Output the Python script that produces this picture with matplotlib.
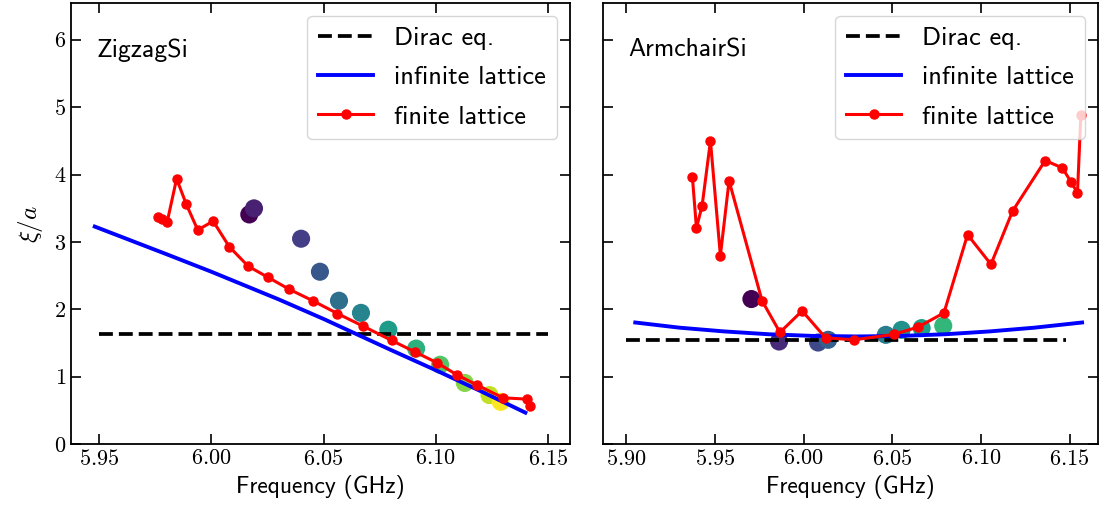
import numpy as np
import matplotlib
matplotlib.use('Agg')
import matplotlib.pyplot as plt
from matplotlib.ticker import FuncFormatter

plt.rcParams['font.family'] = 'cmss10'
plt.rcParams['mathtext.fontset'] = 'cm'
plt.rcParams['axes.unicode_minus'] = False
plt.rcParams['axes.formatter.use_mathtext'] = True

# ---- Zigzag data ----
zz_dirac_f = [5.95, 6.15]
zz_dirac_xi = [1.63, 1.63]
zz_inf_f = [5.948, 5.98, 6.00, 6.03, 6.05, 6.08, 6.10, 6.12, 6.14]
zz_inf_xi = [3.23, 2.82, 2.56, 2.15, 1.86, 1.40, 1.10, 0.79, 0.47]
zz_fin_f = [5.9763, 5.978, 5.9803, 5.9845, 5.9887, 5.9939, 6.0008, 6.0080, 6.0165,
            6.0251, 6.0347, 6.0452, 6.0562, 6.0678, 6.0804, 6.0908, 6.1006, 6.1095,
            6.1184, 6.1300, 6.1408, 6.1420]
zz_fin_xi = [3.37, 3.34, 3.30, 3.94, 3.57, 3.18, 3.31, 2.93, 2.64,
             2.48, 2.30, 2.13, 1.94, 1.75, 1.54, 1.37, 1.21, 1.03,
             0.88, 0.69, 0.67, 0.57]
zz_dot_f = [6.0169, 6.0190, 6.0400, 6.0484, 6.0569, 6.0667, 6.0789, 6.0913,
            6.1020, 6.1130, 6.1240, 6.1290]
zz_dot_xi = [3.41, 3.50, 3.05, 2.56, 2.13, 1.95, 1.70, 1.42, 1.18, 0.91, 0.73, 0.63]
zz_dot_c = [0.0, 0.09, 0.18, 0.27, 0.36, 0.45, 0.55, 0.64, 0.73, 0.82, 0.91, 1.0]

# ---- Armchair data ----
ac_dirac_f = [5.90, 6.148]
ac_dirac_xi = [1.55, 1.55]
ac_inf_f = [5.905, 5.93, 5.955, 5.98, 6.005, 6.03, 6.055, 6.08, 6.105, 6.13, 6.157]
ac_inf_xi = [1.807, 1.73, 1.675, 1.633, 1.608, 1.600, 1.608, 1.633, 1.675, 1.73, 1.807]
ac_fin_f = [5.9372, 5.9395, 5.9427, 5.9474, 5.9530, 5.9579, 5.9765, 5.9866, 5.9991,
            6.0123, 6.0283, 6.0508, 6.0646, 6.0791, 6.0924, 6.1056, 6.1178, 6.1362,
            6.1459, 6.1508, 6.1544, 6.1563]
ac_fin_xi = [3.97, 3.21, 3.54, 4.50, 2.80, 3.91, 2.13, 1.66, 1.98,
             1.58, 1.55, 1.63, 1.74, 1.95, 3.11, 2.67, 3.46, 4.21,
             4.10, 3.89, 3.73, 4.88]
ac_dot_f = [5.9705, 5.9861, 6.0081, 6.0138, 6.0463, 6.0552, 6.0665, 6.0787]
ac_dot_xi = [2.155, 1.525, 1.51, 1.55, 1.624, 1.698, 1.724, 1.758]
ac_dot_c = [0.0, 0.12, 0.22, 0.30, 0.42, 0.50, 0.56, 0.66]

fig = plt.figure(figsize=(11.04, 5.25), dpi=100)
ax1 = fig.add_axes([0.0643, 0.1537, 0.452, 0.841])
ax2 = fig.add_axes([0.5462, 0.1537, 0.4484, 0.841], sharey=ax1)


def draw(ax, dirac_f, dirac_xi, inf_f, inf_xi, fin_f, fin_xi, dot_f, dot_xi, dot_c, name):
    ax.scatter(dot_f, dot_xi, c=dot_c, cmap='viridis', vmin=0, vmax=1, s=170,
               linewidths=0, zorder=1.5)
    ax.plot(dirac_f, dirac_xi, color='black', linestyle='--', linewidth=2.7, label='Dirac eq.')
    ax.plot(inf_f, inf_xi, color='blue', linewidth=2.8, label='infinite lattice')
    ax.plot(fin_f, fin_xi, color='red', linewidth=2.2, marker='o', markersize=6.5,
            label='finite lattice')
    ax.text(0.052, 0.893, name, transform=ax.transAxes, fontsize=18.5, va='center')
    ax.legend(loc='upper right', fontsize=19, handlelength=2.1, borderpad=0.4,
              labelspacing=0.6, borderaxespad=0.5)
    ax.tick_params(direction='in', top=True, right=True, length=7, width=1.2, labelsize=16)
    for s in ax.spines.values():
        s.set_linewidth(1.3)
    ax.xaxis.set_major_formatter(FuncFormatter(lambda v, p: f'${v:.2f}$'))
    ax.set_xlabel('Frequency (GHz)', fontsize=17)


draw(ax1, zz_dirac_f, zz_dirac_xi, zz_inf_f, zz_inf_xi, zz_fin_f, zz_fin_xi,
     zz_dot_f, zz_dot_xi, zz_dot_c, 'ZigzagSi')
draw(ax2, ac_dirac_f, ac_dirac_xi, ac_inf_f, ac_inf_xi, ac_fin_f, ac_fin_xi,
     ac_dot_f, ac_dot_xi, ac_dot_c, 'ArmchairSi')

ax1.set_xlim(5.9374, 6.1599)
ax1.set_xticks([5.95, 6.00, 6.05, 6.10, 6.15])
ax2.set_xlim(5.8868, 6.166)
ax2.set_xticks([5.90, 5.95, 6.00, 6.05, 6.10, 6.15])
ax1.set_ylim(0, 6.55)
ax1.set_yticks([0, 1, 2, 3, 4, 5, 6])
ax1.yaxis.set_major_formatter(FuncFormatter(lambda v, p: f'${v:.0f}$'))
ax1.set_ylabel(r'$\xi/a$', fontsize=18, labelpad=6)
ax2.tick_params(labelleft=False)

fig.savefig('out.png', dpi=100)
